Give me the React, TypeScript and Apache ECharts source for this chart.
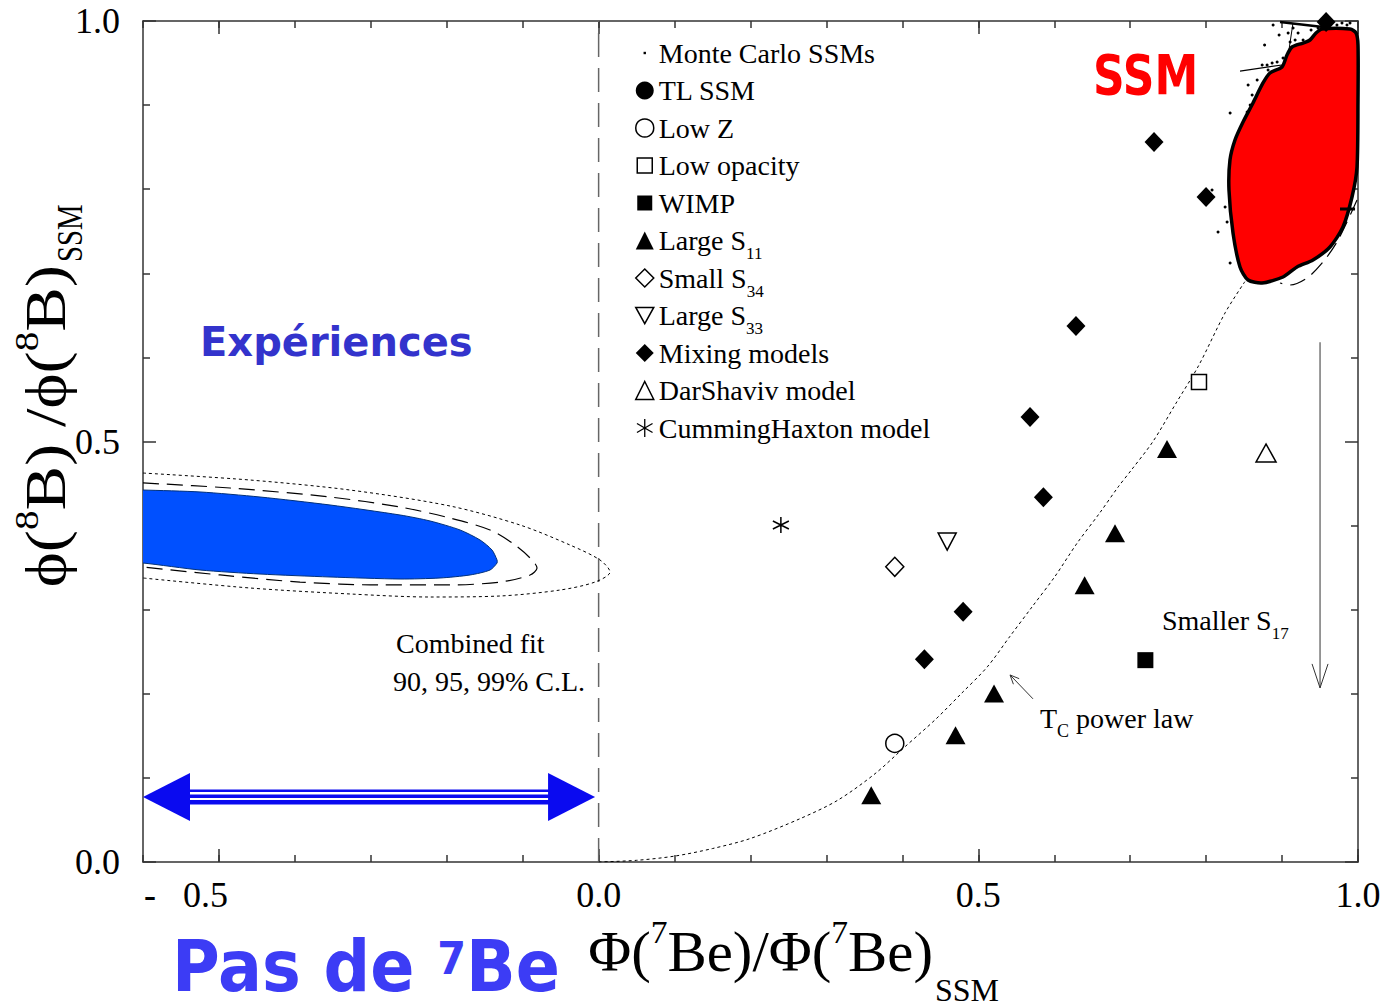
import React, { useEffect, useRef } from 'react';
import * as echarts from 'echarts';

const SERIF = '"Liberation Serif", "Times New Roman", serif';
const COMIC = '"Comic Sans MS", "DejaVu Sans", sans-serif';

// ---- tick labels ----
const xTickValues = [-0.5, 0, 0.5, 1.0];
const yTickValues = [0, 0.5, 1.0];

// ---- model points ----
const monteCarloSSMs = [
  [0.8882, 0.9952], [0.8961, 0.9834], [0.908, 0.9857], [0.9145, 0.9917], [0.9211, 0.9857],
  [0.9106, 0.975], [0.9172, 0.9774], [0.9277, 0.9774], [0.877, 0.9715], [0.8935, 0.9512],
  [0.8869, 0.95], [0.8803, 0.9477], [0.8738, 0.9477], [0.8672, 0.9298], [0.8553, 0.9239],
  [0.8606, 0.912], [0.858, 0.9001], [0.854, 0.8918], [0.8316, 0.8906], [0.825, 0.7788],
  [0.8276, 0.761], [0.8157, 0.7491], [0.8316, 0.7122], [0.9723, 0.9952], [0.9789, 0.9976],
  [0.9855, 0.9952], [0.9895, 0.9976], [0.9382, 0.9893], [0.9474, 0.9917], [0.8816, 0.9417],
  [0.9013, 0.956], [0.8078, 0.799],
];
const tlSSM: number[][] = [];
const lowZ = [[0.39, 0.141]];
const lowOpacity = [[0.7906, 0.5707]];
const wimp = [[0.72, 0.24]];
const largeS11 = [[0.359, 0.0794], [0.47, 0.1508], [0.5207, 0.2004], [0.64, 0.329], [0.68, 0.391], [0.7485, 0.4911]];
const smallS34 = [[0.39, 0.351]];
const largeS33 = [[0.459, 0.381]];
const mixingModels = [
  [0.958, 0.9988], [0.7314, 0.8561], [0.7999, 0.7907], [0.6286, 0.6373],
  [0.5681, 0.5291], [0.5857, 0.4337], [0.48, 0.2976], [0.429, 0.241],
];
const darShaviv = [[0.8789, 0.4863]];
const cummingHaxton = [[0.24, 0.4007]];

// ---- SSM region (red) ----
const ssmRegion = [
  [0.9526, 0.9905], [0.9895, 0.9905], [0.9974, 0.9857], [1.0, 0.9715], [1.0, 0.9061],
  [0.9987, 0.8264], [0.9921, 0.7907], [0.9802, 0.7551], [0.9631, 0.7313], [0.9407, 0.7158],
  [0.9197, 0.7075], [0.9012, 0.6956], [0.8736, 0.6885], [0.8552, 0.692], [0.8446, 0.7075],
  [0.8354, 0.7479], [0.8301, 0.799], [0.8314, 0.8347], [0.838, 0.8585], [0.8486, 0.8799],
  [0.8617, 0.9025], [0.8749, 0.9263], [0.8841, 0.9382], [0.8999, 0.9453], [0.9065, 0.9596],
  [0.9131, 0.9691], [0.9276, 0.9738], [0.9368, 0.9774], [0.9447, 0.9857],
];
const ssmOuterDash = [
  [0.9987, 0.7872], [0.9855, 0.761], [0.9723, 0.7372], [0.9539, 0.7134],
  [0.9328, 0.6944], [0.9104, 0.6861], [0.8973, 0.6885],
];
const mcTrackA = [[0.8446, 0.9405], [0.8999, 0.9477]];
const mcTrackB = [[0.8973, 0.9988], [0.9539, 0.9929]];
const mcTrackC = [[0.9144, 0.9976], [0.9065, 0.9501]];
const mcTrackD = [[0.9763, 0.7765], [0.9961, 0.7765]];

// ---- Tc power law ----
const tcPowerLaw = [
  [0, 0], [0.05, 0.002], [0.1, 0.007], [0.15, 0.016], [0.2, 0.028], [0.2655, 0.0516],
  [0.3148, 0.0734], [0.364, 0.105], [0.4034, 0.137], [0.443, 0.169], [0.4773, 0.2],
  [0.5118, 0.232], [0.5414, 0.268], [0.571, 0.3036], [0.6005, 0.339], [0.63, 0.379],
  [0.6596, 0.4147], [0.6842, 0.446], [0.7015, 0.466], [0.73, 0.5], [0.76, 0.545],
  [0.79, 0.59], [0.825, 0.653], [0.851, 0.69],
];

// ---- combined fit contours (the 90% region continues past the left axis) ----
const fit90 = [
  [-0.62, 0.4425], [-0.6, 0.4423], [-0.5249, 0.44], [-0.4459, 0.434], [-0.3537, 0.4245], [-0.2615, 0.4126],
  [-0.222, 0.4055], [-0.1825, 0.3948], [-0.1562, 0.3829], [-0.1404, 0.371], [-0.1338, 0.3591],
  [-0.1338, 0.3555], [-0.143, 0.3472], [-0.1693, 0.3413], [-0.2088, 0.3377], [-0.2615, 0.3365],
  [-0.3537, 0.3389], [-0.4459, 0.3424], [-0.5249, 0.3472], [-0.6, 0.3555], [-0.62, 0.3558],
];
const fit95 = [
  [-0.6, 0.4507], [-0.4854, 0.4447], [-0.3537, 0.434], [-0.2615, 0.4221], [-0.1957, 0.409],
  [-0.143, 0.3948], [-0.1101, 0.3769], [-0.0903, 0.3615], [-0.0811, 0.3496], [-0.0903, 0.3413],
  [-0.1298, 0.3329], [-0.1957, 0.3294], [-0.2879, 0.3294], [-0.3932, 0.3329], [-0.4985, 0.3413],
  [-0.6, 0.3508],
];
const fit99 = [
  [-0.6, 0.4625], [-0.459, 0.4542], [-0.3274, 0.4423], [-0.1957, 0.4233], [-0.1035, 0.4007],
  [-0.0377, 0.3769], [0.0018, 0.3591], [0.015, 0.3448], [-0.0047, 0.3329], [-0.0508, 0.3234],
  [-0.1298, 0.3163], [-0.222, 0.3151], [-0.3274, 0.3187], [-0.459, 0.3258], [-0.6, 0.3377],
];
const zeroLine = [[0, 0], [0, 1]];

// ---- annotation arrows ----
const experimentsArrow = [[-0.6, -0.0047, 0.0773]];
const s17Arrow = [[0.95, 0.618, 0.95, 0.207]];
const tcArrow = [[0.572, 0.194, 0.5418, 0.2224]];

const DOT_ICON = 'path://M0,0M18,18M7.8,7.8h2.4v2.4h-2.4z';
const SQUARE_ICON = 'path://M0,0M18,18M1.5,1.5h15v15h-15z';
const INV_TRI = 'path://M0,0L20,0L10,18Z';
const ASTERISK = 'path://M9,0L9,18M1.2,4.5L16.8,13.5M1.2,13.5L16.8,4.5';
const BLUE_ARROW = '#0a0af0';

const legendSubscripts: Record<string, [string, string]> = {
  'Large S11': ['Large S', '11'],
  'Small S34': ['Small S', '34'],
  'Large S33': ['Large S', '33'],
};
const legendFormatter = (name: string) => {
  const parts = legendSubscripts[name];
  // every row carries a subscript token so that all rows have the same height
  return parts ? parts[0] + '{sub|' + parts[1] + '}' : name + '{sub| }';
};

const axisLineStyle = { color: '#333', width: 1.5 };

function polygonRender(points: number[][], style: any, smooth: number) {
  return (params: any, api: any) => {
    if (params.dataIndex !== 0) return null;
    return {
      type: 'polygon',
      shape: { points: points.map((p) => api.coord(p)), smooth },
      style,
    };
  };
}

function arrowRender(headLen: number, headHalf: number) {
  return (params: any, api: any) => {
    const p1 = api.coord([api.value(0), api.value(1)]);
    const p2 = api.coord([api.value(2), api.value(3)]);
    const dx = p2[0] - p1[0];
    const dy = p2[1] - p1[1];
    const len = Math.hypot(dx, dy) || 1;
    const ux = dx / len;
    const uy = dy / len;
    const bx = p2[0] - ux * headLen;
    const by = p2[1] - uy * headLen;
    const l = [bx - uy * headHalf, by + ux * headHalf];
    const r = [bx + uy * headHalf, by - ux * headHalf];
    return {
      type: 'group',
      children: [
        { type: 'line', shape: { x1: p1[0], y1: p1[1], x2: p2[0], y2: p2[1] }, style: { stroke: '#333', lineWidth: 1 } },
        { type: 'polyline', shape: { points: [l, p2, r] }, style: { stroke: '#333', lineWidth: 1, fill: 'none' } },
      ],
    };
  };
}

function doubleArrowRender(params: any, api: any) {
  const a = api.coord([api.value(0), api.value(2)]);
  const b = api.coord([api.value(1), api.value(2)]);
  const y = a[1];
  const head = 47;
  const half = 24;
  const x0 = a[0] + head - 1;
  const w = b[0] - a[0] - 2 * head + 2;
  return {
    type: 'group',
    children: [
      { type: 'polygon', shape: { points: [[a[0], y], [a[0] + head, y - half], [a[0] + head, y + half]] }, style: { fill: BLUE_ARROW } },
      { type: 'polygon', shape: { points: [[b[0], y], [b[0] - head, y - half], [b[0] - head, y + half]] }, style: { fill: BLUE_ARROW } },
      { type: 'rect', shape: { x: x0, y: y - 7.5, width: w, height: 2.5 }, style: { fill: BLUE_ARROW } },
      { type: 'rect', shape: { x: x0, y: y - 2.5, width: w, height: 3.5 }, style: { fill: BLUE_ARROW } },
      { type: 'rect', shape: { x: x0, y: y + 3, width: w, height: 4.5 }, style: { fill: BLUE_ARROW } },
    ],
  };
}

function lineSeries(name: string, data: number[][], lineStyle: any, smooth: number | boolean = false, z = 2) {
  return {
    type: 'line', name, data, symbol: 'none', showSymbol: false, smooth, z, silent: true,
    lineStyle, xAxisIndex: 0, yAxisIndex: 0,
  };
}

function scatterSeries(name: string, data: number[][], symbol: string, size: any, fill: string, border = 1.5) {
  return {
    type: 'scatter', name, data, symbol, symbolSize: size, z: 8, silent: true,
    xAxisIndex: 0, yAxisIndex: 0,
    itemStyle: { color: fill, borderColor: '#000', borderWidth: border, opacity: 1 },
  };
}

const xBase = { type: 'value', min: -0.6, max: 1.0, interval: 0.1, splitLine: { show: false } };
const yBase = {
  type: 'value', min: 0, max: 1, interval: 0.5, splitLine: { show: false },
  axisLine: { show: true, onZero: false, lineStyle: axisLineStyle },
  axisTick: { show: true, inside: true, length: 13, lineStyle: axisLineStyle },
  minorTick: { show: true, splitNumber: 5, length: 7, lineStyle: axisLineStyle },
  minorSplitLine: { show: false },
};

const subStyleZr = (fontSize: number) => ({
  fontFamily: SERIF, fontSize, height: 4, lineHeight: 4, verticalAlign: 'bottom', fill: '#000',
});

const option: any = {
  animation: false,
  backgroundColor: '#ffffff',
  grid: { left: 143, right: 29, top: 21, bottom: 146, containLabel: false, outerBoundsMode: 'none' },
  xAxis: [
    {
      ...xBase, position: 'bottom',
      axisLine: { show: true, onZero: false, lineStyle: axisLineStyle },
      axisTick: { show: true, inside: true, length: 7, lineStyle: axisLineStyle },
      axisLabel: {
        show: true, customValues: xTickValues, margin: 15, lineHeight: 36,
        fontFamily: SERIF, fontSize: 36, color: '#000',
        formatter: (v: number) => (v < 0 ? '{dash|-}{neg|   ' + Math.abs(v).toFixed(1) + '}' : v.toFixed(1)),
        rich: {
          dash: { fontFamily: SERIF, fontSize: 36, fontWeight: 'bold', color: '#000', lineHeight: 36 },
          neg: { fontFamily: SERIF, fontSize: 36, color: '#000', lineHeight: 36, padding: [0, 66, 0, 0] },
        },
      },
    },
    {
      ...xBase, position: 'bottom',
      axisLine: { show: false, onZero: false },
      axisTick: { show: true, inside: true, length: 13, customValues: xTickValues, lineStyle: axisLineStyle },
      axisLabel: { show: false },
    },
    {
      ...xBase, position: 'top',
      axisLine: { show: true, onZero: false, lineStyle: axisLineStyle },
      axisTick: { show: true, inside: true, length: 7, lineStyle: axisLineStyle },
      axisLabel: { show: false },
    },
    {
      ...xBase, position: 'top',
      axisLine: { show: false, onZero: false },
      axisTick: { show: true, inside: true, length: 13, customValues: xTickValues, lineStyle: axisLineStyle },
      axisLabel: { show: false },
    },
  ],
  yAxis: [
    {
      ...yBase, position: 'left',
      axisLabel: {
        show: true, customValues: yTickValues, margin: 23, fontFamily: SERIF, fontSize: 36, color: '#000',
        formatter: (v: number) => v.toFixed(1),
      },
    },
    { ...yBase, position: 'right', axisLabel: { show: false } },
  ],
  legend: {
    left: 635, top: 38, orient: 'vertical', itemWidth: 18, itemHeight: 18, itemGap: 1, padding: 0,
    selectedMode: false,
    formatter: legendFormatter,
    textStyle: {
      fontFamily: SERIF, fontSize: 28, color: '#000', lineHeight: 30,
      rich: { sub: { fontFamily: SERIF, fontSize: 17, color: '#000', height: 4, lineHeight: 4, verticalAlign: 'bottom' } },
    },
    data: [
      { name: 'Monte Carlo SSMs', icon: DOT_ICON, itemStyle: { color: '#000', borderWidth: 0 } },
      { name: 'TL SSM', icon: 'circle', itemStyle: { color: '#000', borderWidth: 0 } },
      { name: 'Low Z', icon: 'circle', itemStyle: { color: '#fff', borderColor: '#000', borderWidth: 1.5 } },
      { name: 'Low opacity', icon: SQUARE_ICON, itemStyle: { color: '#fff', borderColor: '#000', borderWidth: 1.5 } },
      { name: 'WIMP', icon: SQUARE_ICON, itemStyle: { color: '#000', borderWidth: 0 } },
      { name: 'Large S11', icon: 'triangle', itemStyle: { color: '#000', borderWidth: 0 } },
      { name: 'Small S34', icon: 'diamond', itemStyle: { color: '#fff', borderColor: '#000', borderWidth: 1.5 } },
      { name: 'Large S33', icon: INV_TRI, itemStyle: { color: '#fff', borderColor: '#000', borderWidth: 1.5 } },
      { name: 'Mixing models', icon: 'diamond', itemStyle: { color: '#000', borderWidth: 0 } },
      { name: 'DarShaviv model', icon: 'triangle', itemStyle: { color: '#fff', borderColor: '#000', borderWidth: 1.5 } },
      { name: 'CummingHaxton model', icon: ASTERISK, itemStyle: { color: 'transparent', borderColor: '#000', borderWidth: 1.3 } },
    ],
  },
  series: [
    lineSeries('zero', zeroLine, { color: '#666', width: 1.5, type: [24, 11] }, false, 1),
    {
      type: 'custom', name: 'fit90', coordinateSystem: 'cartesian2d', xAxisIndex: 0, yAxisIndex: 0,
      data: fit90, encode: { x: 0, y: 1 }, z: 3, silent: true, clip: true,
      renderItem: polygonRender(fit90, { fill: '#0050ff', stroke: '#00307a', lineWidth: 1 }, 0.25),
    },
    lineSeries('fit95', fit95, { color: '#000', width: 1.2, type: [16, 8] }, 0.3, 3),
    lineSeries('fit99', fit99, { color: '#000', width: 1, type: [3, 3] }, 0.3, 3),
    lineSeries('Tc power law', tcPowerLaw, { color: '#000', width: 1, type: [3, 3] }, 0.3, 2),
    scatterSeries('Monte Carlo SSMs', monteCarloSSMs, 'circle', 3, '#000', 0),
    lineSeries('trackA', mcTrackA, { color: '#000', width: 1.2 }, false, 2),
    lineSeries('trackB', mcTrackB, { color: '#000', width: 2.5 }, false, 2),
    lineSeries('trackC', mcTrackC, { color: '#000', width: 1 }, false, 2),
    lineSeries('outerDash', ssmOuterDash, { color: '#000', width: 1.2, type: [16, 8] }, 0.3, 2),
    {
      type: 'custom', name: 'ssmRegion', coordinateSystem: 'cartesian2d', xAxisIndex: 0, yAxisIndex: 0,
      data: ssmRegion, encode: { x: 0, y: 1 }, z: 5, silent: true, clip: false,
      renderItem: polygonRender(ssmRegion, { fill: '#ff0000', stroke: '#000', lineWidth: 3.5 }, 0.25),
    },
    lineSeries('trackD', mcTrackD, { color: '#000', width: 3 }, false, 6),
    scatterSeries('TL SSM', tlSSM, 'circle', 18, '#000', 0),
    scatterSeries('Low Z', lowZ, 'circle', 18, '#fff'),
    scatterSeries('Low opacity', lowOpacity, 'rect', 15, '#fff'),
    scatterSeries('WIMP', wimp, 'rect', 16, '#000', 0),
    scatterSeries('Large S11', largeS11, 'triangle', [20, 18], '#000', 0),
    scatterSeries('Small S34', smallS34, 'diamond', [18, 19], '#fff'),
    scatterSeries('Large S33', largeS33, INV_TRI, [18, 17], '#fff'),
    scatterSeries('Mixing models', mixingModels, 'diamond', [19, 20], '#000', 0),
    scatterSeries('DarShaviv model', darShaviv, 'triangle', [20, 18], '#fff'),
    scatterSeries('CummingHaxton model', cummingHaxton, ASTERISK, 16, 'transparent', 1.5),
    {
      type: 'custom', name: 'experimentsArrow', coordinateSystem: 'cartesian2d', xAxisIndex: 0, yAxisIndex: 0,
      data: experimentsArrow, encode: { x: [0, 1], y: 2 }, z: 7, silent: true, clip: false,
      renderItem: doubleArrowRender,
    },
    {
      type: 'custom', name: 's17Arrow', coordinateSystem: 'cartesian2d', xAxisIndex: 0, yAxisIndex: 0,
      data: s17Arrow, encode: { x: [0, 2], y: [1, 3] }, z: 7, silent: true, clip: false,
      renderItem: arrowRender(24, 8),
    },
    {
      type: 'custom', name: 'tcArrow', coordinateSystem: 'cartesian2d', xAxisIndex: 0, yAxisIndex: 0,
      data: tcArrow, encode: { x: [0, 2], y: [1, 3] }, z: 7, silent: true, clip: false,
      renderItem: arrowRender(9, 4),
    },
  ],
  graphic: [
    {
      type: 'group', x: 46, y: 265, rotation: Math.PI / 2, z: 20,
      children: [
        {
          type: 'text', x: 0, y: 0, scaleX: 1.15,
          style: {
            text: '{m|ϕ(}{sup|8}{m|B) /ϕ(}{sup|8}{m|B)}', align: 'right', verticalAlign: 'middle',
            rich: {
              m: { fontFamily: SERIF, fontSize: 58, lineHeight: 64, fill: '#000' },
              sup: { fontFamily: SERIF, fontSize: 34, height: 24, lineHeight: 24, verticalAlign: 'top', fill: '#000' },
            },
          },
        },
        {
          type: 'text', x: 3, y: 24, scaleX: 0.8,
          style: { text: 'SSM', fontFamily: SERIF, fontSize: 36, fill: '#000', align: 'left', verticalAlign: 'middle' },
        },
      ],
    },
    {
      type: 'text', x: 933, y: 952, z: 20, scaleX: 1.05,
      style: {
        text: '{m|Φ(}{sup|7}{m|Be)/Φ(}{sup|7}{m|Be)}', align: 'right', verticalAlign: 'middle',
        rich: {
          m: { fontFamily: SERIF, fontSize: 56, lineHeight: 64, fill: '#000' },
          sup: { fontFamily: SERIF, fontSize: 32, height: 24, lineHeight: 24, verticalAlign: 'top', fill: '#000' },
        },
      },
    },
    {
      type: 'text', x: 935, y: 990, z: 20,
      style: { text: 'SSM', fontFamily: SERIF, fontSize: 32, fill: '#000', align: 'left', verticalAlign: 'middle' },
    },
    {
      type: 'text', x: 396, y: 643, z: 20,
      style: { text: 'Combined fit', fontFamily: SERIF, fontSize: 28, fill: '#000', align: 'left', verticalAlign: 'middle' },
    },
    {
      type: 'text', x: 393, y: 681, z: 20,
      style: { text: '90, 95, 99% C.L.', fontFamily: SERIF, fontSize: 28, fill: '#000', align: 'left', verticalAlign: 'middle' },
    },
    {
      type: 'text', x: 1040, y: 718, z: 20,
      style: {
        text: '{m|T}{sub|C}{m| power law}', align: 'left', verticalAlign: 'middle',
        rich: {
          m: { fontFamily: SERIF, fontSize: 28, lineHeight: 30, fill: '#000' },
          sub: subStyleZr(18),
        },
      },
    },
    {
      type: 'text', x: 1162, y: 620, z: 20,
      style: {
        text: '{m|Smaller S}{sub|17}', align: 'left', verticalAlign: 'middle',
        rich: {
          m: { fontFamily: SERIF, fontSize: 28, lineHeight: 30, fill: '#000' },
          sub: subStyleZr(17),
        },
      },
    },
    {
      type: 'text', x: 200, y: 342, z: 20,
      style: { text: 'Expériences', fontFamily: COMIC, fontWeight: 'bold', fontSize: 40, fill: '#3333cc', align: 'left', verticalAlign: 'middle' },
    },
    {
      type: 'text', x: 1093, y: 75, z: 20, scaleY: 1.25,
      style: { text: 'SSM', fontFamily: COMIC, fontWeight: 'bold', fontSize: 44, fill: '#ff0000', align: 'left', verticalAlign: 'middle' },
    },
    {
      type: 'text', x: 172, y: 967, z: 20, scaleX: 1.035, scaleY: 1.12,
      style: {
        text: '{m|Pas de }{sup|7}{m|Be}', align: 'left', verticalAlign: 'middle',
        rich: {
          m: { fontFamily: COMIC, fontWeight: 'bold', fontSize: 63, lineHeight: 64, fill: '#3c3cf5' },
          sup: { fontFamily: COMIC, fontWeight: 'bold', fontSize: 40, height: 48, lineHeight: 48, verticalAlign: 'top', fill: '#3c3cf5' },
        },
      },
    },
  ],
};

export default function App() {
  const ref = useRef<HTMLDivElement>(null);
  useEffect(() => {
    if (!ref.current) return;
    const chart = echarts.init(ref.current, null, { renderer: 'svg' });
    chart.setOption(option);
    return () => chart.dispose();
  }, []);
  return (
    <div
      ref={ref}
      style={{ position: 'absolute', left: 0, top: 0, width: 1387, height: 1008, background: '#fff' }}
    />
  );
}
